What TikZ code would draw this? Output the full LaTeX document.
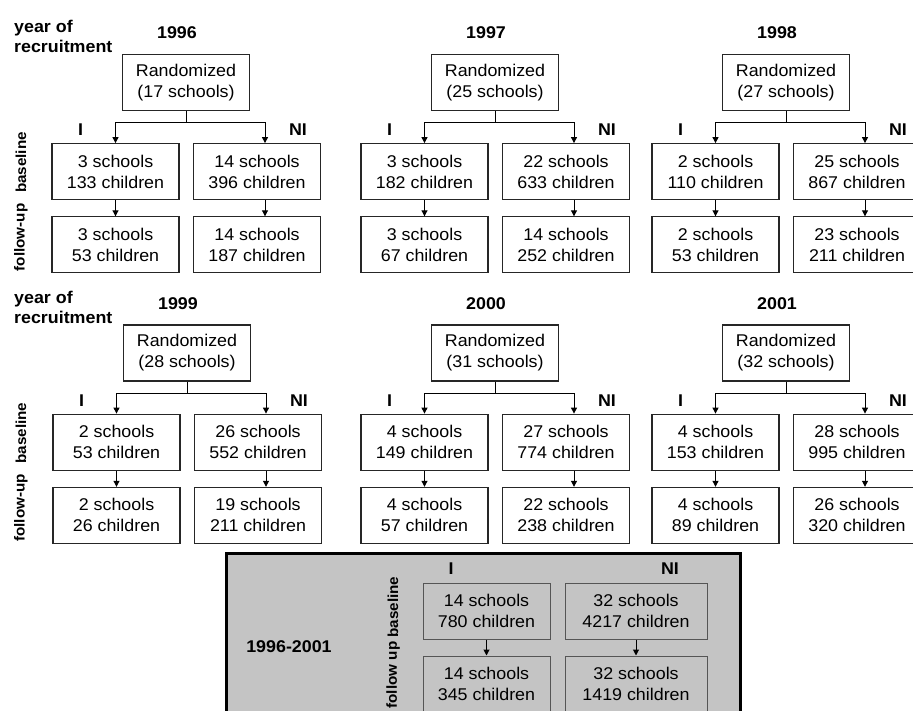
\documentclass[tikz,border=0pt]{standalone}
\usepackage{fontspec}
\setmainfont{Liberation Sans}[FakeStretch=1.05]
\usetikzlibrary{arrows.meta,positioning}
\definecolor{poolgray}{RGB}{196,196,196}
\definecolor{pooledge}{RGB}{ 85, 85, 85}
\tikzset{
  box/.style ={rectangle,draw=black!85,line width=1.2pt,
               minimum width=127pt,minimum height=56pt,
               align=center,font=\fontsize{17}{21}\selectfont,inner sep=2pt},
  pbox/.style={box,draw=pooledge,line width=1pt},
  lab/.style ={font=\fontsize{17}{20}\selectfont\bfseries,inner sep=1pt},
  side/.style={lab,font=\fontsize{14.5}{17}\selectfont\bfseries,rotate=90},
  arr/.style ={-{Triangle[length=6pt,width=6pt]},line width=1pt},
  pool/.style={rectangle,draw,line width=2.5pt,fill=poolgray},
}

\begin{document}
\begin{tikzpicture}[x=1pt,y=-1pt]
  \useasboundingbox (0,0) rectangle (913,711);
  % one panel per year of recruitment
  \foreach \cx/\cy/\yr/\rn/\ibs/\ibc/\nbs/\nbc/\ifs/\ifc/\nfs/\nfc in {
      186/82.5/1996/17/3/133/14/396/3/53/14/187,
      495/82.5/1997/25/3/182/22/633/3/67/14/252,
      786/82.5/1998/27/2/110/25/867/2/53/23/211,
      187/353/1999/28/2/53/26/552/2/26/19/211,
      495/353/2000/31/4/149/27/774/4/57/22/238,
      786/353/2001/32/4/153/28/995/4/89/26/320}{
    \node[box] (rand\yr) at (\cx,\cy) {Randomized\\(\rn{} schools)};
    \node[lab] (yr\yr) at ([xshift=-9pt,yshift=21pt]rand\yr.north) {\yr};
    \node[box,below=32pt of rand\yr,xshift=-70.5pt] (ib\yr) {\ibs{} schools\\\ibc{} children};
    \node[box,below=32pt of rand\yr,xshift=71pt]    (nb\yr) {\nbs{} schools\\\nbc{} children};
    \node[box,below=16pt of ib\yr] (if\yr) {\ifs{} schools\\\ifc{} children};
    \node[box,below=16pt of nb\yr] (nf\yr) {\nfs{} schools\\\nfc{} children};
    \node[lab] (i\yr)  at ([xshift=-35pt,yshift=13pt]ib\yr.north) {I};
    \node[lab] (ni\yr) at ([xshift=41pt,yshift=13pt]nb\yr.north)  {NI};
    \draw[line width=1pt] (rand\yr.south) -- ++(0,11.5) coordinate (sp\yr);
    \draw[arr] (sp\yr) -| (ib\yr.north);
    \draw[arr] (sp\yr) -| ([xshift=8pt]nb\yr.north);
    \draw[arr] (ib\yr.south) -- (if\yr.north);
    \draw[arr] ([xshift=8pt]nb\yr.south) -- ([xshift=8pt]nf\yr.north);
  }
  % row labels
  \foreach \cy/\r in {82.5/a,353/b}{
    \node[lab,align=left,anchor=west] (rec\r) at (13,\cy-46) {year of\\recruitment};
    \node[side] (bl\r) at (21,\cy+80)  {baseline};
    \node[side] (fu\r) at (21,\cy+155) {follow-up};
  }
  % pooled panel
  \node[pool,minimum width=514pt,minimum height=190pt,anchor=north west]
       (pool) at (225,552) {};
  \node[lab] (span) at (289,647) {1996-2001};
  \node[side] (blp) at (393,607) {baseline};
  \node[side] (fup) at (393,675) {follow up};
  \node[pbox] (ip) at (486.5,611) {14 schools\\780 children};
  \node[pbox,minimum width=142pt] (np) at (636,611) {32 schools\\4217 children};
  \node[pbox,below=16pt of ip] (ipf) {14 schools\\345 children};
  \node[pbox,minimum width=142pt,below=16pt of np] (npf) {32 schools\\1419 children};
  \node[lab] (ilp)  at (451,569) {I};
  \node[lab] (nilp) at (670,569) {NI};
  \draw[arr] (ip.south) -- (ipf.north);
  \draw[arr] (np.south) -- (npf.north);
\end{tikzpicture}
\end{document}
